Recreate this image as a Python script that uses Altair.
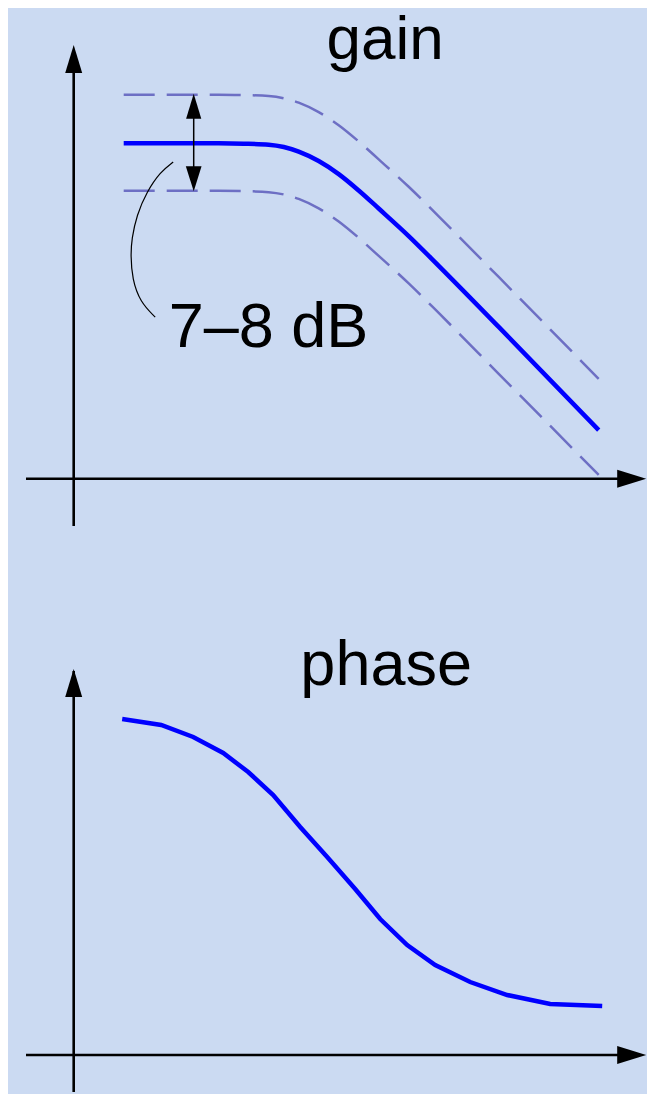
import altair as alt
import pandas as pd

# ---------------- data ----------------
# gain panel: x in log-frequency units, y in dB
freq = [1.0, 2.9, 3.4, 3.9, 4.5, 4.9, 5.3, 5.7, 6.1, 6.7, 7.3, 8.5, 10.5]
gain_mid = [26.2, 26.2, 26.17, 26.09, 25.56, 24.82, 23.80, 22.52, 21.11, 18.96, 16.63, 11.86, 3.80]
gain_hi = [30.0, 30.0, 29.97, 29.9, 29.38, 28.64, 27.62, 26.35, 24.95, 22.81, 20.5, 15.76, 7.8]
gain_lo = [22.5, 22.5, 22.47, 22.39, 21.86, 21.12, 20.1, 18.82, 17.41, 15.26, 12.95, 8.2, 0.3]

# phase panel
phase_freq = [0.97, 1.75, 2.39, 2.99, 3.49, 3.99, 4.53, 5.07, 5.63, 6.13, 6.67,
              7.23, 7.93, 8.67, 9.53, 10.57]
phase_val = [168, 165, 159, 151, 141.5, 130, 114, 99, 83, 68, 55, 45, 36.5, 30,
             25.5, 24.5]

# annotation: spread marker and leader curve
spread_x = 2.4
spread_top = 30.08
spread_bot = 22.45
leader_x = [1.99, 1.73, 1.46, 1.26, 1.16, 1.14, 1.17, 1.33, 1.63]
leader_y = [24.74, 23.96, 22.40, 20.60, 18.73, 17.48, 15.60, 13.80, 12.63]

labels_gain = [{"t": "gain", "x": 6.23, "y": 32.8, "a": "center", "s": 62},
               {"t": "7\u20138 dB", "x": 1.90, "y": 10.29, "a": "left", "s": 63}]
labels_phase = [{"t": "phase", "x": 6.25, "y": 185, "s": 63}]

# axis extents (data units)
X_LEFT, X_TIP = -0.954, 11.45
G_BOTTOM, G_TIP = -3.7, 33.88
P_BOTTOM, P_TIP = -18.5, 193.0

# ---------------- styling / layout ----------------
BG = "#cbdaf2"
BLUE = "#0000ff"
DASH = "#6d6fc4"
FONT = "Liberation Sans"
W, H1, H2 = 639, 572, 510
X_DOM = [-1.314, 11.466]
G_DOM = [-8.07, 36.62]
P_DOM = [-18.5, 236.5]

UP = "M0,0L0.607,2L-0.607,2Z"
DOWN = "M0,0L0.63,-2L-0.63,-2Z"
RIGHT = "M0,0L-2,-0.62L-2,0.62Z"

xs = alt.Scale(domain=X_DOM, nice=False, zero=False)


def panel(yscale_dom, height, layers_fn):
    ys = alt.Scale(domain=yscale_dom, nice=False, zero=False)

    def X(f):
        return alt.X(f, type="quantitative", scale=xs, axis=None)

    def Y(f):
        return alt.Y(f, type="quantitative", scale=ys, axis=None)

    return alt.layer(*layers_fn(X, Y)).properties(width=W, height=height)


def axes_layers(X, Y, y_bottom, y_tip):
    vax = alt.Chart(pd.DataFrame({"x": [0.0], "y": [y_bottom], "y2": [y_tip - 1.0]})).mark_rule(
        color="black", strokeWidth=2.6).encode(x=X("x"), y=Y("y"), y2="y2")
    hax = alt.Chart(pd.DataFrame({"x": [X_LEFT], "x2": [X_TIP - 0.3], "y": [0.0]})).mark_rule(
        color="black", strokeWidth=2.6).encode(x=X("x"), x2="x2", y=Y("y"))
    vhead = alt.Chart(pd.DataFrame({"x": [0.0], "y": [y_tip]})).mark_point(
        shape=UP, size=784, filled=True, opacity=1, color="black", strokeWidth=0).encode(
        x=X("x"), y=Y("y"))
    hhead = alt.Chart(pd.DataFrame({"x": [X_TIP], "y": [0.0]})).mark_point(
        shape=RIGHT, size=841, filled=True, opacity=1, color="black", strokeWidth=0).encode(
        x=X("x"), y=Y("y"))
    return [vax, hax, vhead, hhead]


def text_layer(X, Y, rows, align):
    layers = []
    for r in rows:
        layers.append(alt.Chart(pd.DataFrame([r])).mark_text(
            font=FONT, fontSize=r["s"], color="black", align=align,
            baseline="alphabetic").encode(x=X("x"), y=Y("y"), text="t:N"))
    return layers


def gain_layers(X, Y):
    band = pd.DataFrame({
        "f": freq * 2,
        "g": gain_hi + gain_lo,
        "s": ["hi"] * len(freq) + ["lo"] * len(freq),
    })
    mid = pd.DataFrame({"f": freq, "g": gain_mid})
    dashed = alt.Chart(band).mark_line(
        color=DASH, strokeWidth=2.5, strokeDash=[31, 12], interpolate="monotone").encode(
        x=X("f"), y=Y("g"), detail="s:N")
    main = alt.Chart(mid).mark_line(
        color=BLUE, strokeWidth=4.5, interpolate="monotone").encode(x=X("f"), y=Y("g"))
    spread = alt.Chart(pd.DataFrame({"x": [spread_x], "y": [spread_bot + 1.0],
                                     "y2": [spread_top - 1.0]})).mark_rule(
        color="black", strokeWidth=1.5).encode(x=X("x"), y=Y("y"), y2="y2")
    up = alt.Chart(pd.DataFrame({"x": [spread_x], "y": [spread_top]})).mark_point(
        shape=UP, size=625, filled=True, opacity=1, color="black", strokeWidth=0).encode(
        x=X("x"), y=Y("y"))
    down = alt.Chart(pd.DataFrame({"x": [spread_x], "y": [spread_bot]})).mark_point(
        shape=DOWN, size=625, filled=True, opacity=1, color="black", strokeWidth=0).encode(
        x=X("x"), y=Y("y"))
    leader = alt.Chart(pd.DataFrame({"x": leader_x, "y": leader_y,
                                     "o": list(range(len(leader_x)))})).mark_line(
        color="black", strokeWidth=1.2, interpolate="basis").encode(
        x=X("x"), y=Y("y"), order="o:Q")
    texts = (text_layer(X, Y, [r for r in labels_gain if r["a"] == "center"], "center") +
             text_layer(X, Y, [r for r in labels_gain if r["a"] == "left"], "left"))
    return (axes_layers(X, Y, G_BOTTOM, G_TIP) +
            [dashed, main, leader, spread, up, down] + texts)


def phase_layers(X, Y):
    df = pd.DataFrame({"f": phase_freq, "p": phase_val})
    curve = alt.Chart(df).mark_line(color=BLUE, strokeWidth=4.5).encode(
        x=X("f"), y=Y("p"))
    return axes_layers(X, Y, P_BOTTOM, P_TIP) + [curve] + text_layer(X, Y, labels_phase, "center")


top = panel(G_DOM, H1, gain_layers)
bottom = panel(P_DOM, H2, phase_layers)

chart = alt.vconcat(top, bottom, spacing=0).properties(
    background=BG, padding=0
).configure_view(stroke=None).configure_concat(spacing=0)

chart.save("out.html", embed_options={"renderer": "svg", "actions": False})
